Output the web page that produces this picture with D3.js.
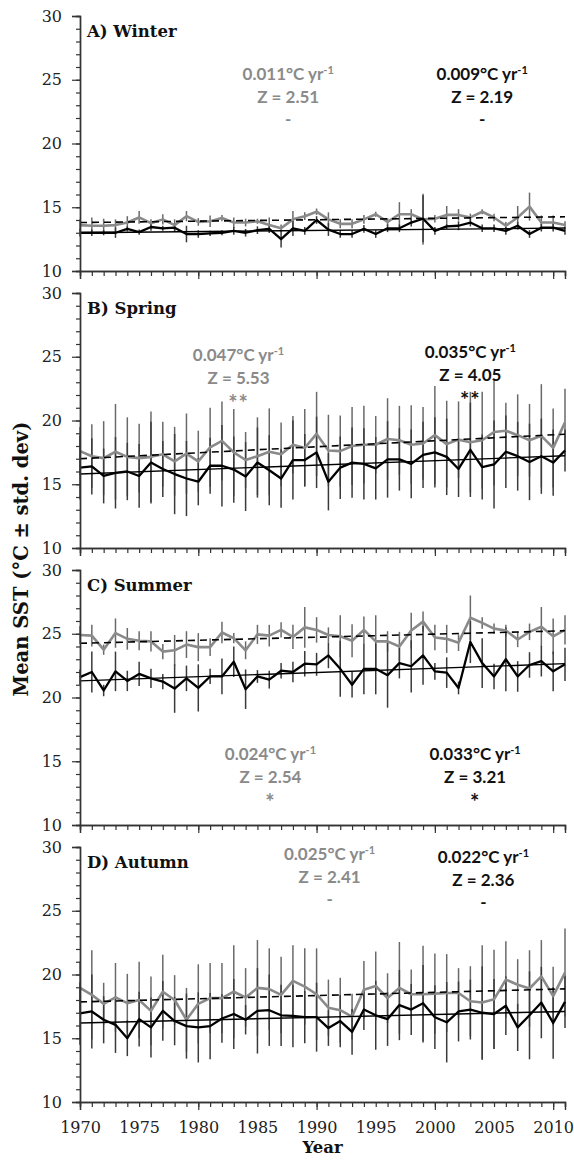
<!DOCTYPE html>
<html>
<head>
<meta charset="utf-8">
<script src="https://cdn.jsdelivr.net/npm/d3@7"></script>
<style>
  body { margin: 0; background: #fff; }
  svg { display: block; }
</style>
</head>
<body>
<div id="chart"></div>
<script>
// ---- data ----
const years = d3.range(1970, 2012);
const panelTitles = ["A) Winter", "B) Spring", "C) Summer", "D) Autumn"];
const yTicks = [10, 15, 20, 25, 30];
const xLabelYears = [1970, 1975, 1980, 1985, 1990, 1995, 2000, 2005, 2010];

// grey series (dashed trend)
const winterGrey = [13.6,13.55,13.55,13.6,13.8,14.2,13.75,14.05,13.6,14.3,13.85,13.9,14.15,13.8,13.8,13.9,13.6,13.35,14.05,14.3,14.65,14.05,13.7,13.7,14.05,14.45,13.85,14.45,14.45,14.05,14.1,14.4,14.4,14.2,14.65,14.2,13.55,14.2,15.05,13.8,13.8,13.6];
const springGrey = [17.6,17.2,17.05,17.55,17.15,17.05,17.15,17.35,16.8,17.4,16.8,17.9,18.4,17.5,16.9,17.2,17.55,17.35,18.1,17.85,18.95,17.65,17.6,18.0,18.1,18.1,18.55,18.45,18.1,18.2,18.85,18.15,18.5,18.3,18.45,19.1,19.2,18.85,18.45,18.8,17.85,19.85];
const summerGrey = [24.9,24.85,23.75,25.05,24.6,24.45,24.4,23.6,23.7,24.15,23.95,23.95,25.1,24.65,23.7,24.95,24.85,25.3,24.75,25.5,25.3,24.9,24.8,24.45,25.3,24.4,24.4,24.0,25.25,25.95,24.7,24.6,24.3,26.25,25.85,25.4,25.25,24.55,25.15,25.55,24.8,25.3];
const autumnGrey = [18.95,18.4,17.7,18.2,17.75,18.0,17.15,18.65,18.0,16.45,17.7,18.15,18.15,18.65,18.2,18.95,18.85,18.4,19.5,19.05,18.45,17.4,17.2,16.7,18.8,19.1,18.15,18.95,18.45,18.45,18.5,18.55,18.55,17.9,17.8,18.05,19.6,19.2,18.9,19.85,18.3,20.15];

const winterGreySd = [0.45,0.65,0.55,0.45,0.5,0.5,0.3,0.4,0.45,0.4,0.3,0.45,0.25,0.4,0.3,0.2,0.6,0.3,0.65,0.3,0.25,0.55,0.35,0.35,0.35,0.2,0.3,0.95,0.4,2.0,0.3,0.7,0.45,0.3,0.2,0.3,0.3,0.9,1.1,0.55,0.55,0.3];
const springGreySd = [1.9,2.5,2.9,3.75,3.1,2.7,3.55,2.55,2.7,3.15,2.4,3.1,3.1,3.4,2.2,3.05,3.4,2.5,2.25,3.05,3.3,2.8,2.8,3.05,3.05,2.25,3.2,2.7,3.1,2.85,3.85,3.4,3.0,3.95,3.8,4.2,2.2,3.2,2.85,4.05,3.1,2.65];
const summerGreySd = [0.7,0.85,0.4,1.15,0.85,0.75,0.8,0.6,1.2,1.05,1.1,0.7,0.85,0.4,0.7,0.75,0.85,0.6,0.95,1.6,1.0,0.6,1.65,1.3,1.05,2.05,0.8,1.15,1.4,0.8,1.0,1.1,0.65,1.75,0.45,0.4,0.45,0.6,0.65,1.55,1.4,1.15];
const autumnGreySd = [2.05,3.5,1.65,2.7,2.3,3.0,2.7,2.9,1.95,2.5,3.1,2.75,2.75,3.65,2.3,3.75,3.2,3.0,2.8,3.0,3.6,2.2,2.55,1.8,2.25,2.7,1.95,3.6,1.95,3.8,3.15,3.05,1.95,2.75,4.5,3.9,3.0,2.0,3.0,2.85,2.3,3.45];

// black series (solid trend)
const winterBlack = [13.0,13.0,13.0,13.0,13.3,13.05,13.45,13.35,13.4,12.9,12.9,12.95,13.0,13.15,13.0,13.2,13.3,12.5,13.35,13.15,14.0,13.25,12.9,12.9,13.3,12.9,13.35,13.35,13.8,14.1,13.15,13.5,13.55,13.8,13.35,13.35,13.15,13.55,12.9,13.4,13.4,13.15];
const springBlack = [16.3,16.4,15.65,15.9,16.0,15.65,16.7,16.2,15.8,15.45,15.2,16.45,16.45,16.15,15.6,16.7,16.1,15.45,16.9,16.9,17.5,15.2,16.3,16.7,16.6,16.25,16.95,16.95,16.6,17.3,17.5,17.15,16.2,17.7,16.35,16.55,17.55,17.2,16.75,17.2,16.7,17.65];
const summerBlack = [21.6,22.0,20.55,22.05,21.3,21.85,21.5,21.25,20.7,21.5,20.75,21.65,21.65,22.8,20.65,21.65,21.4,22.1,22.0,22.65,22.6,23.3,22.25,21.0,22.25,22.25,21.75,22.7,22.45,23.3,22.05,21.95,20.75,24.35,22.7,21.65,23.0,21.65,22.55,22.85,22.05,22.6];
const autumnBlack = [16.95,17.1,16.45,16.05,15.0,16.5,15.85,17.15,16.35,15.95,15.85,15.95,16.55,16.9,16.45,17.15,17.2,16.8,16.75,16.65,16.65,15.8,16.35,15.5,17.25,16.8,16.5,17.6,17.25,17.75,16.65,16.25,17.1,17.25,17.0,16.9,17.55,15.85,16.8,17.8,16.2,17.85];

const winterBlackSd = [0.3,0.25,0.2,0.4,0.2,0.2,0.3,0.2,0.3,0.65,0.3,0.2,0.2,0.3,0.3,0.3,0.3,0.65,0.6,0.3,0.3,0.5,0.3,0.3,0.3,0.3,0.3,0.3,0.3,1.85,0.3,0.2,0.35,0.3,0.3,0.3,0.3,0.3,0.3,0.3,0.3,0.3];
const springBlackSd = [2.5,2.2,2.15,2.8,2.25,2.5,3.2,2.2,3.15,2.95,1.85,2.2,3.2,2.6,2.7,2.75,2.75,2.3,3.1,2.05,2.8,2.25,2.45,2.75,2.8,2.45,3.0,2.45,2.7,2.6,2.75,3.0,2.2,3.7,2.55,3.45,2.85,2.7,3.0,2.95,2.6,1.65];
const summerBlackSd = [0.6,1.6,0.45,1.55,0.8,0.95,0.75,0.6,1.9,1.0,1.85,0.6,1.4,1.2,1.55,0.5,0.7,0.6,0.8,1.0,0.9,1.0,2.2,1.0,2.0,2.0,2.55,1.2,2.05,2.3,0.65,1.2,0.5,1.65,1.95,1.0,2.5,1.2,1.0,1.2,1.55,1.3];
const autumnBlackSd = [2.45,2.9,1.85,2.2,1.4,2.15,2.35,2.35,1.9,2.55,2.75,2.6,1.9,2.75,1.15,3.35,2.8,2.4,2.45,2.05,2.7,1.4,2.05,1.8,1.6,2.7,2.1,2.75,2.0,3.0,2.5,3.15,2.35,2.35,3.65,2.75,2.3,1.85,3.45,2.8,2.8,2.05];

// trend: value in 1970 and slope (°C per year), test statistics
const greyTrendStart = [13.8, 17.0, 24.25, 17.85];
const greySlope = [0.011, 0.047, 0.024, 0.025];
const greyZ = [2.51, 5.53, 2.54, 2.41];
const greySig = ["-", "**", "*", "-"];
const blackTrendStart = [13.0, 15.8, 21.3, 16.2];
const blackSlope = [0.009, 0.035, 0.033, 0.022];
const blackZ = [2.19, 4.05, 3.21, 2.36];
const blackSig = ["-", "**", "*", "-"];

// where the annotation blocks sit (year, °C of first line baseline)
const greyLabelAt = [[1987.6, 24.96], [1983.4, 24.67], [1986.1, 15.06], [1991.1, 28.98]];
const blackLabelAt = [[2004.0, 24.96], [2003.0, 24.9], [2003.4, 15.06], [2004.1, 28.75]];

const greyMean = [winterGrey, springGrey, summerGrey, autumnGrey];
const greySd = [winterGreySd, springGreySd, summerGreySd, autumnGreySd];
const blackMean = [winterBlack, springBlack, summerBlack, autumnBlack];
const blackSd = [winterBlackSd, springBlackSd, summerBlackSd, autumnBlackSd];

// ---- layout ----
const width = 574, height = 1161;
const left = 80, right = 565;
const panelTop = 16, panelStep = 277, panelH = 255;

const serif = "'DejaVu Serif', serif";
const sans = "Lato, 'Open Sans', sans-serif";
const greyCol = "#8a8a8a";

const svg = d3.select("#chart").append("svg")
  .attr("width", width)
  .attr("height", height);

const x = d3.scaleLinear().domain([1970, 2011]).range([left, right]);

panelTitles.forEach(function(title, p) {
  const top = panelTop + p * panelStep;
  const bottom = top + panelH;
  const y = d3.scaleLinear().domain([10, 30]).range([bottom, top]);
  const g = svg.append("g");

  // error bars
  const bars = [
    { mean: greyMean[p], sd: greySd[p], col: "#6a6a6a" },
    { mean: blackMean[p], sd: blackSd[p], col: "#3a3a3a" }
  ];
  bars.forEach(function(s) {
    g.selectAll(null)
      .data(years)
      .join("line")
      .attr("x1", d => x(d)).attr("x2", d => x(d))
      .attr("y1", (d, i) => y(s.mean[i] + s.sd[i]))
      .attr("y2", (d, i) => y(s.mean[i] - s.sd[i]))
      .attr("stroke", s.col)
      .attr("stroke-width", 1.5);
  });

  const line = d3.line().x((d, i) => x(years[i])).y(d => y(d));

  g.append("path")
    .attr("d", line(greyMean[p]))
    .attr("fill", "none")
    .attr("stroke", greyCol)
    .attr("stroke-width", 2.6)
    .attr("stroke-linejoin", "round");

  g.append("path")
    .attr("d", line(blackMean[p]))
    .attr("fill", "none")
    .attr("stroke", "#000")
    .attr("stroke-width", 2.3)
    .attr("stroke-linejoin", "round");

  // trend lines
  const span = [1970, 2011];
  g.append("line")
    .attr("x1", x(span[0])).attr("x2", x(span[1]))
    .attr("y1", y(greyTrendStart[p]))
    .attr("y2", y(greyTrendStart[p] + greySlope[p] * (span[1] - span[0])))
    .attr("stroke", "#000")
    .attr("stroke-width", 1.6)
    .attr("stroke-dasharray", "7,5");

  g.append("line")
    .attr("x1", x(span[0])).attr("x2", x(span[1]))
    .attr("y1", y(blackTrendStart[p]))
    .attr("y2", y(blackTrendStart[p] + blackSlope[p] * (span[1] - span[0])))
    .attr("stroke", "#000")
    .attr("stroke-width", 1.4);

  // axes
  const axCol = "#333";
  const yMinor = g.append("g")
    .attr("transform", `translate(${left},0)`)
    .call(d3.axisLeft(y).tickValues(d3.range(10, 31)).tickSize(4).tickFormat(""));
  const yMajor = g.append("g")
    .attr("transform", `translate(${left},0)`)
    .call(d3.axisLeft(y).tickValues(yTicks).tickSize(8).tickPadding(10).tickFormat(d3.format("d")));
  const xMinor = g.append("g")
    .attr("transform", `translate(0,${bottom})`)
    .call(d3.axisBottom(x).tickValues(years).tickSize(5).tickFormat(""));
  const xMajor = g.append("g")
    .attr("transform", `translate(0,${bottom})`)
    .call(d3.axisBottom(x).tickValues([1970, 1980, 1990, 2000, 2010]).tickSize(8).tickFormat(""));

  [yMinor, yMajor, xMinor, xMajor].forEach(function(a) {
    a.select(".domain").attr("stroke", axCol).attr("stroke-width", 1.4);
    a.selectAll(".tick line").attr("stroke", axCol).attr("stroke-width", 1.2);
  });
  yMajor.selectAll("text")
    .attr("font-family", serif)
    .attr("font-size", 16)
    .attr("fill", "#222");

  if (p === panelTitles.length - 1) {
    const xLab = g.append("g")
      .attr("transform", `translate(0,${bottom})`)
      .call(d3.axisBottom(x).tickValues(xLabelYears).tickSize(0).tickPadding(20).tickFormat(d3.format("d")));
    xLab.select(".domain").remove();
    xLab.selectAll("text")
      .attr("font-family", serif)
      .attr("font-size", 16)
      .attr("fill", "#222");
  }

  // panel title
  g.append("text")
    .attr("x", left + 7)
    .attr("y", top + 21)
    .attr("font-family", serif)
    .attr("font-weight", "bold")
    .attr("font-size", 16.5)
    .attr("fill", "#111")
    .text(title);

  // annotations
  const notes = [
    { at: greyLabelAt[p], slope: greySlope[p], z: greyZ[p], sig: greySig[p], col: greyCol },
    { at: blackLabelAt[p], slope: blackSlope[p], z: blackZ[p], sig: blackSig[p], col: "#111" }
  ];
  notes.forEach(function(n) {
    const cx = x(n.at[0]), by = y(n.at[1]);
    const t = g.append("text")
      .attr("x", cx)
      .attr("y", by)
      .attr("text-anchor", "middle")
      .attr("font-family", sans)
      .attr("font-weight", "bold")
      .attr("font-size", 17)
      .attr("fill", n.col);
    t.append("tspan").text(n.slope.toFixed(3) + "°C yr");
    t.append("tspan").attr("dy", -6).attr("font-size", 11).text("-1");

    g.append("text")
      .attr("x", cx)
      .attr("y", by + 23)
      .attr("text-anchor", "middle")
      .attr("font-family", sans)
      .attr("font-weight", "bold")
      .attr("font-size", 17)
      .attr("fill", n.col)
      .text("Z = " + n.z.toFixed(2));

    // significance marks: asterisks drawn a bit larger, dashes as usual
    const isStar = n.sig.indexOf("*") >= 0;
    g.append("text")
      .attr("x", cx)
      .attr("y", by + (isStar ? 50 : 45))
      .attr("text-anchor", "middle")
      .attr("font-family", sans)
      .attr("font-weight", "bold")
      .attr("font-size", isStar ? 22 : 17)
      .attr("letter-spacing", isStar ? 1 : 0)
      .attr("fill", n.col)
      .text(n.sig);
  });
});

// axis titles
svg.append("text")
  .attr("transform", `translate(28,${(panelTop + 3 * panelStep + panelH + panelTop) / 2}) rotate(-90)`)
  .attr("text-anchor", "middle")
  .attr("font-family", serif)
  .attr("font-weight", "bold")
  .attr("font-size", 19.5)
  .attr("fill", "#111")
  .text("Mean SST (°C ± std. dev)");

svg.append("text")
  .attr("x", (left + right) / 2)
  .attr("y", 1153)
  .attr("text-anchor", "middle")
  .attr("font-family", serif)
  .attr("font-weight", "bold")
  .attr("font-size", 16.5)
  .attr("fill", "#111")
  .text("Year");
</script>
</body>
</html>
